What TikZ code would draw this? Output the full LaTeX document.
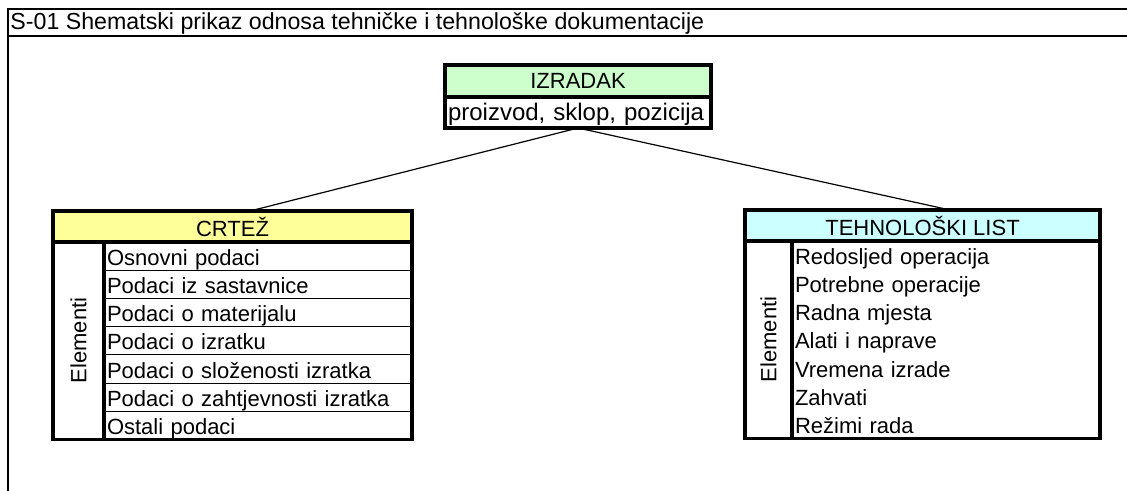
\documentclass[tikz,border=0pt]{standalone}
\usepackage{fontspec}
\setmainfont{Liberation Sans}
\usetikzlibrary{positioning}

\definecolor{izgreen}{HTML}{CCFFCC}
\definecolor{crtyellow}{HTML}{FFFF99}
\definecolor{tlcyan}{HTML}{CCFFFF}

\begin{document}
\begin{tikzpicture}[x=0.5pt,y=-0.5pt,
  every node/.style={font=\fontsize{11}{13}\selectfont},
  head/.style={inner sep=0pt, outer sep=0pt, minimum height=15.5pt},
  row/.style={inner xsep=1.5pt, inner ysep=0pt, outer sep=0pt, text width=151pt, align=left,
    text height=11.6pt, text depth=2.5pt},
  cell/.style={row, draw, line width=0.5pt},
  thickline/.style={line width=1.7pt},
  frame/.style={line width=1pt}]

  \useasboundingbox (0,0) rectangle (1127,491);

  % okvir
  \draw[frame] (1127,9) -- (8,9) -- (8,491);
  \draw[frame] (8,36) -- (1127,36);
  \node[anchor=base west, inner sep=0pt, font=\fontsize{11.6}{13}\selectfont] (naslov) at (10,30)
    {S-01 Shematski prikaz odnosa tehničke i tehnološke dokumentacije};

  % IZRADAK
  \node[head, fill=izgreen, minimum width=133pt, minimum height=16pt] (izradak) at (578,81) {IZRADAK};
  \node[row, text width=130pt, text height=12pt, text depth=3.5pt, font=\fontsize{12}{14}\selectfont,
    below=0pt of izradak] (izpoz) {proizvod, sklop, pozicija};
  \draw[thickline] (izradak.north west) rectangle (izpoz.south east);
  \draw[thickline] (izradak.south west) -- (izradak.south east);

  % CRTEZ
  \node[head, fill=crtyellow, minimum width=179.5pt] (crtez) at (232.5,226.5) {CRTEŽ};
  \node[cell, anchor=north east] (c1) at (crtez.south east) {Osnovni podaci};
  \node[cell, below=0pt of c1] (c2) {Podaci iz sastavnice};
  \node[cell, below=0pt of c2] (c3) {Podaci o materijalu};
  \node[cell, below=0pt of c3] (c4) {Podaci o izratku};
  \node[cell, below=0pt of c4] (c5) {Podaci o složenosti izratka};
  \node[cell, below=0pt of c5] (c6) {Podaci o zahtjevnosti izratka};
  \node[cell, below=0pt of c6] (c7) {Ostali podaci};
  \node[rotate=90, inner sep=0pt] (celem) at (78.5,340.5) {Elementi};
  \draw[thickline] (crtez.north west) rectangle (c7.south east);
  \draw[thickline] (crtez.south west) -- (crtez.south east);
  \draw[thickline] (c1.north west) -- (c7.south west);

  % TEHNOLOSKI LIST
  \node[head, fill=tlcyan, minimum width=177.5pt] (tlist) at (922.5,225.5) {TEHNOLOŠKI LIST};
  \node[row, anchor=north east] (t1) at (tlist.south east) {Redosljed operacija};
  \node[row, below=0pt of t1] (t2) {Potrebne operacije};
  \node[row, below=0pt of t2] (t3) {Radna mjesta};
  \node[row, below=0pt of t3] (t4) {Alati i naprave};
  \node[row, below=0pt of t4] (t5) {Vremena izrade};
  \node[row, below=0pt of t5] (t6) {Zahvati};
  \node[row, below=0pt of t6] (t7) {Režimi rada};
  \node[rotate=90, inner sep=0pt] (telem) at (768.5,339.5) {Elementi};
  \draw[thickline] (tlist.north west) rectangle (t7.south east);
  \draw[thickline] (tlist.south west) -- (tlist.south east);
  \draw[thickline] (t1.north west) -- (t7.south west);

  % veze
  \draw[line width=0.6pt] (izpoz.south) -- ([xshift=8.75pt]crtez.north);
  \draw[line width=0.6pt] (izpoz.south) -- ([xshift=13.75pt]tlist.north);
\end{tikzpicture}
\end{document}
